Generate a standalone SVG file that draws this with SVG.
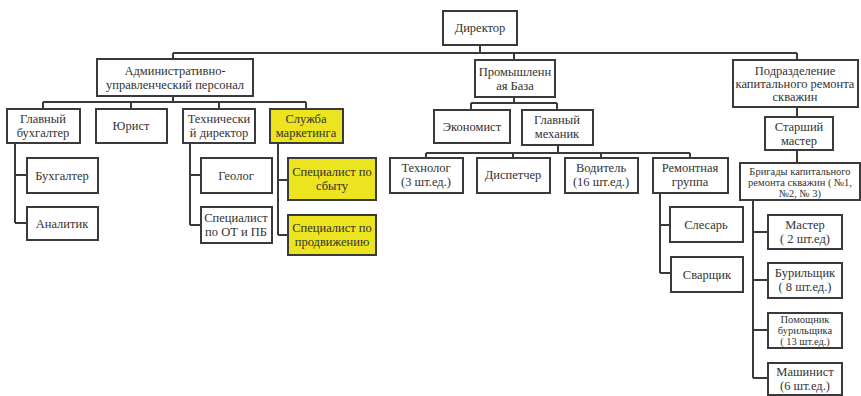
<svg xmlns="http://www.w3.org/2000/svg" width="861" height="396" viewBox="0 0 861 396">
<style>
.b{fill:#fff;stroke:#3a3a3a;stroke-width:2}
.y{fill:#ece41e;stroke:#3a3a3a;stroke-width:2}
.c{fill:none;stroke:#3a3a3a;stroke-width:2}
text{font-family:"Liberation Serif","Tinos","DejaVu Serif","Times New Roman",serif;font-size:12.5px;fill:#333;text-anchor:middle}
.s{font-size:10.5px}
</style>
<rect width="861" height="396" fill="#fff"/>
<g id="connectors" class="c">
<path d="M480 45V53M173 53H797M173 53V59M514 53V60M797 53V60"/>
<path d="M173 96V102M43 102H306M43 102V109M131 102V109M219 102V109M306 102V109"/>
<path d="M15 143V223M15 175H27M15 223H27"/>
<path d="M190 143V225M190 175H201M190 225H201"/>
<path d="M278 143V235M278 180H288M278 235H288"/>
<path d="M514 97V103M471 103H557M471 103V110M557 103V110"/>
<path d="M558 145V153M426 153H690M426 153V158M513 153V158M601 153V158M690 153V158"/>
<path d="M660 193V273M660 225H670M660 273H671"/>
<path d="M797 107V117M797 150V163"/>
<path d="M753 200V378M753 232H768M753 280H768M753 330H768M753 378H768"/>
</g>
<g id="dir"><rect class="b" x="443" y="11" width="74" height="34"/><text x="480" y="32">Директор</text></g>
<g id="admin"><rect class="b" x="97" y="59" width="156" height="37"/><text x="175" y="75">Административно-</text><text x="175" y="89">управленческий персонал</text></g>
<g id="prom"><rect class="b" x="475" y="60" width="80" height="37"/><text x="515" y="76">Промышленн</text><text x="515" y="90">ая База</text></g>
<g id="kap"><rect class="b" x="733" y="60" width="125" height="47"/><text x="795" y="75">Подразделение</text><text x="795" y="88">капитального ремонта</text><text x="795" y="101">скважин</text></g>
<g id="glb"><rect class="b" x="7" y="109" width="73" height="34"/><text x="43" y="123">Главный</text><text x="43" y="137">бухгалтер</text></g>
<g id="yur"><rect class="b" x="96" y="109" width="71" height="34"/><text x="131" y="130">Юрист</text></g>
<g id="tech"><rect class="b" x="183" y="109" width="72" height="34"/><text x="219" y="123">Технически</text><text x="219" y="137">й директор</text></g>
<g id="mkt"><rect class="y" x="270" y="109" width="73" height="34"/><text x="306" y="123">Служба</text><text x="306" y="137">маркетинга</text></g>
<g id="econ"><rect class="b" x="434" y="110" width="76" height="33"/><text x="472" y="131">Экономист</text></g>
<g id="mech"><rect class="b" x="522" y="110" width="71" height="35"/><text x="557" y="124">Главный</text><text x="557" y="138">механик</text></g>
<g id="star"><rect class="b" x="765" y="117" width="68" height="33"/><text x="799" y="131">Старший</text><text x="799" y="145">мастер</text></g>
<g id="buh"><rect class="b" x="27" y="158" width="71" height="35"/><text x="62" y="180">Бухгалтер</text></g>
<g id="anal"><rect class="b" x="27" y="207" width="71" height="33"/><text x="62" y="228">Аналитик</text></g>
<g id="geo"><rect class="b" x="201" y="158" width="71" height="35"/><text x="236" y="180">Геолог</text></g>
<g id="ot"><rect class="b" x="201" y="207" width="71" height="36"/><text x="236" y="222">Специалист</text><text x="236" y="236">по ОТ и ПБ</text></g>
<g id="sbyt"><rect class="y" x="288" y="158" width="88" height="42"/><text x="332" y="176">Специалист по</text><text x="332" y="190">сбыту</text></g>
<g id="prod"><rect class="y" x="288" y="215" width="88" height="40"/><text x="332" y="232">Специалист по</text><text x="332" y="246">продвижению</text></g>
<g id="tehn"><rect class="b" x="390" y="158" width="73" height="35"/><text x="426" y="172">Технолог</text><text x="426" y="186">(3 шт.ед.)</text></g>
<g id="disp"><rect class="b" x="477" y="158" width="73" height="35"/><text x="513" y="179">Диспетчер</text></g>
<g id="vod"><rect class="b" x="565" y="158" width="73" height="35"/><text x="601" y="172">Водитель</text><text x="601" y="186">(16 шт.ед.)</text></g>
<g id="rem"><rect class="b" x="653" y="158" width="75" height="35"/><text x="690" y="172">Ремонтная</text><text x="690" y="186">группа</text></g>
<g id="brig"><rect class="b" x="740" y="163" width="120" height="37"/><text class="s" x="800" y="175">Бригады капитального</text><text class="s" x="800" y="186">ремонта скважин ( №1,</text><text class="s" x="800" y="197">№2, № 3)</text></g>
<g id="sles"><rect class="b" x="670" y="207" width="73" height="35"/><text x="706" y="229">Слесарь</text></g>
<g id="svar"><rect class="b" x="671" y="257" width="72" height="35"/><text x="707" y="279">Сварщик</text></g>
<g id="master"><rect class="b" x="768" y="215" width="74" height="34"/><text x="805" y="229">Мастер</text><text x="805" y="243">( 2 шт.ед)</text></g>
<g id="bur"><rect class="b" x="768" y="263" width="74" height="35"/><text x="805" y="277">Бурильщик</text><text x="805" y="291">( 8 шт.ед.)</text></g>
<g id="pom"><rect class="b" x="768" y="313" width="74" height="35"/><text class="s" x="805" y="323">Помощник</text><text class="s" x="805" y="334">бурильщика</text><text class="s" x="805" y="345">( 13 шт.ед.)</text></g>
<g id="mash"><rect class="b" x="768" y="363" width="74" height="32"/><text x="805" y="376">Машинист</text><text x="805" y="390">(6 шт.ед.)</text></g>
</svg>
